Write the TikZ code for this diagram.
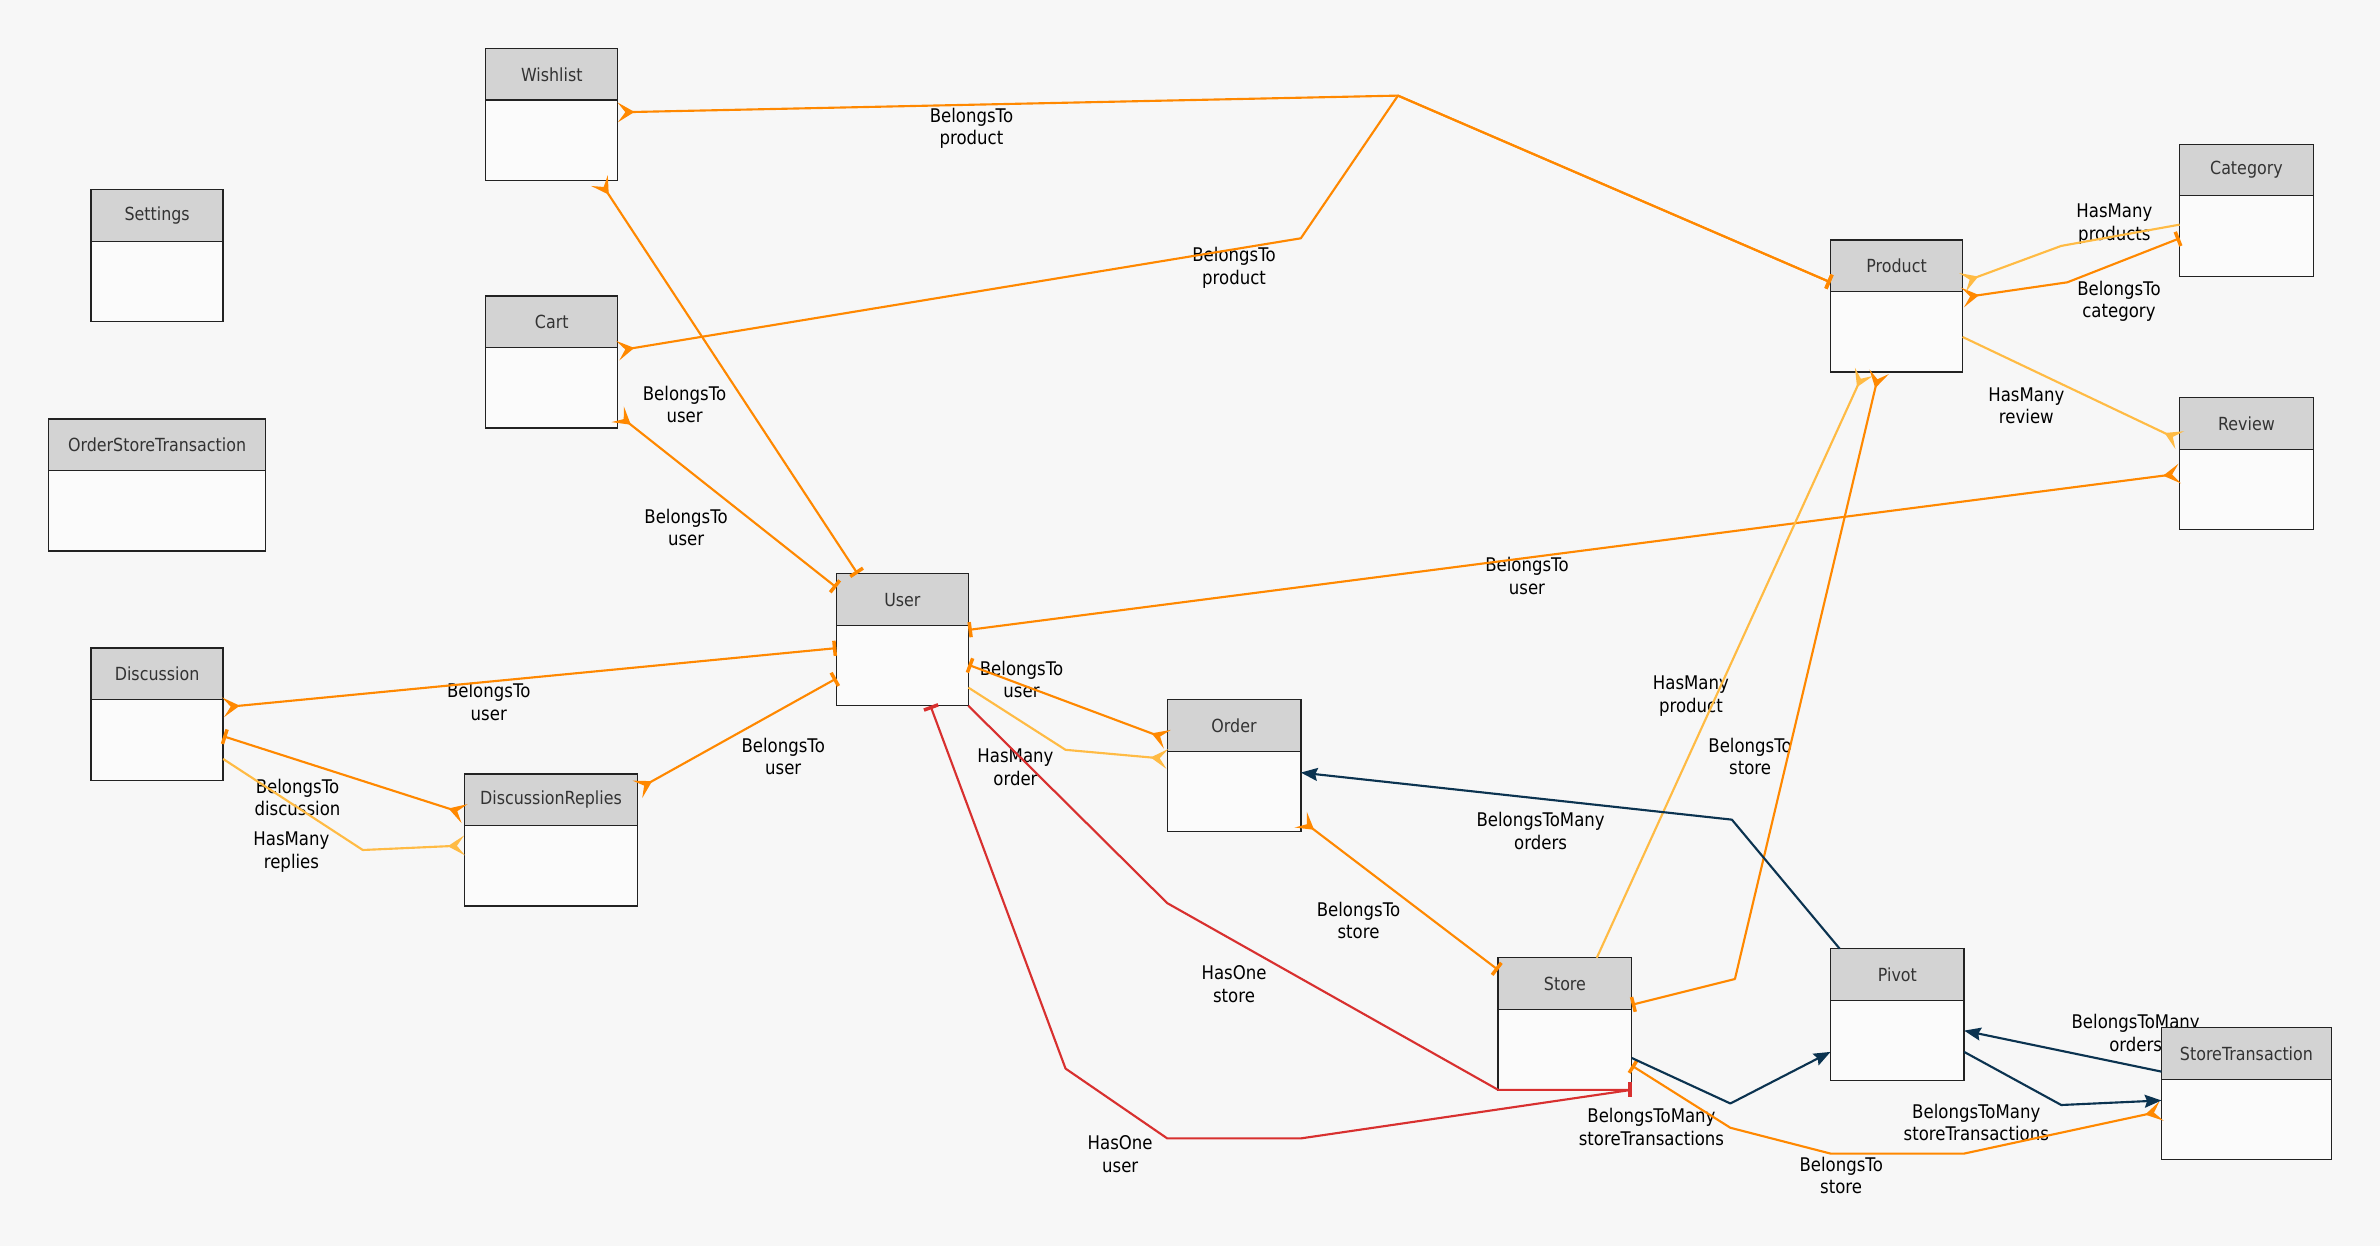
\documentclass[tikz,border=0pt]{standalone}
\usepackage{fontspec}
\setmainfont[FakeStretch=0.88]{DejaVu Sans}
\usetikzlibrary{arrows.meta,calc}

\definecolor{bgc}{HTML}{F7F7F7}
\definecolor{headc}{HTML}{D3D3D3}
\definecolor{boxline}{HTML}{222222}
\definecolor{relorange}{HTML}{FF8800}
\definecolor{rellight}{HTML}{FFBB44}
\definecolor{relred}{HTML}{D8302F}
\definecolor{relnavy}{HTML}{0B3350}

\pgfdeclarelayer{lbls}
\pgfdeclarelayer{links}
\pgfsetlayers{lbls,main,links}

\tikzset{
  entbody/.style={draw=boxline, fill=bgc!50!white, line width=0.9pt,
    minimum width=#1pt, minimum height=87pt, anchor=north west,
    inner sep=0pt, outer sep=0pt},
  enthead/.style={draw=boxline, fill=headc, line width=0.9pt,
    minimum width=#1pt, minimum height=34pt, anchor=north west,
    inner sep=0pt, outer sep=0pt, text=black!80,
    font=\fontsize{11.9}{14}\selectfont},
  lbl/.style={align=center, inner sep=0pt, yshift=-1.5pt,
    font=\fontsize{12.4}{14.8}\selectfont},
  rel/.style={line width=1.4pt, line join=round},
  cfoot/.tip={Stealth[reversed,length=11pt,width=13pt,inset=5pt]},
  cbar/.tip={Bar[width=10pt,line width=2.3pt]},
  navtip/.tip={Stealth[length=11pt,width=8.5pt,inset=1.5pt]},
}

% entity box: name, left, top, width, title
\newcommand\entity[5]{%
  \node[entbody=#4] (#1) at (#2,#3) {};
  \node[enthead=#4] (#1h) at (#2,#3) {#5};
}

\begin{document}
\begin{tikzpicture}[x=1pt,y=-1pt]
\useasboundingbox (0,0) rectangle (1568,821);

% ---------- entities ----------
\entity{wishlist}{320}{32}{87}{Wishlist}
\entity{settings}{60}{125}{87}{Settings}
\entity{cart}{320}{195}{87}{Cart}
\entity{ost}{32}{276}{143}{OrderStoreTransaction}
\entity{discussion}{60}{427}{87}{Discussion}
\entity{dreplies}{306}{510}{114}{DiscussionReplies}
\entity{user}{551}{378}{87}{User}
\entity{order}{769}{461}{88}{Order}
\entity{product}{1206}{158}{87}{Product}
\entity{category}{1436}{95}{88}{Category}
\entity{review}{1436}{262}{88}{Review}
\entity{store}{987}{631}{88}{Store}
\entity{pivot}{1206}{625}{88}{Pivot}
\entity{strans}{1424}{677}{112}{StoreTransaction}

% ---------- background and relation labels ----------
\begin{pgfonlayer}{lbls}
\fill[bgc] (0,0) rectangle (1568,821);
\node[lbl] (l1) at (640,83) {BelongsTo\\product};
\node[lbl] (l2) at (813,175) {BelongsTo\\product};
\node[lbl] (l3) at (451,265) {BelongsTo\\user};
\node[lbl] (l4) at (452,346) {BelongsTo\\user};
\node[lbl] (l5) at (322,461) {BelongsTo\\user};
\node[lbl] (l6) at (516,497) {BelongsTo\\user};
\node[lbl] (l7) at (196,524) {BelongsTo\\discussion};
\node[lbl] (l8) at (192,560) {HasMany\\replies};
\node[lbl] (l9) at (1006,378) {BelongsTo\\user};
\node[lbl] (l10) at (673,446) {BelongsTo\\user};
\node[lbl] (l11) at (669,504) {HasMany\\order};
\node[lbl] (l12) at (813,647) {HasOne\\store};
\node[lbl] (l13) at (738,759) {HasOne\\user};
\node[lbl] (l14) at (895,605) {BelongsTo\\store};
\node[lbl] (l15) at (1114,457) {HasMany\\product};
\node[lbl] (l16) at (1153,497) {BelongsTo\\store};
\node[lbl] (l17) at (1015,546) {BelongsToMany\\orders};
\node[lbl] (l18) at (1088,741) {BelongsToMany\\storeTransactions};
\node[lbl] (l19) at (1407,679) {BelongsToMany\\orders};
\node[lbl] (l20) at (1302,738) {BelongsToMany\\storeTransactions};
\node[lbl] (l21) at (1213,773) {BelongsTo\\store};
\node[lbl] (l22) at (1393,146) {HasMany\\products};
\node[lbl] (l23) at (1396,197) {BelongsTo\\category};
\node[lbl] (l24) at (1335,266) {HasMany\\review};
\end{pgfonlayer}

% ---------- relations ----------
\begin{pgfonlayer}{links}
\coordinate (prodjoin) at (921,63);
% belongs-to (orange)
\draw[rel, relorange, cfoot-cbar] ([shift={(0,42)}]wishlist.north east) -- (prodjoin) -- ([shift={(0,28)}]product.north west);
\draw[rel, relorange, cfoot-cbar] ([shift={(0,36)}]cart.north east) -- (857,157) -- (prodjoin) -- ([shift={(0,28)}]product.north west);
\draw[rel, relorange, cfoot-cbar] ([shift={(75,87)}]wishlist.north west) -- ([shift={(14,0)}]user.north west);
\draw[rel, relorange, cfoot-cbar] ([shift={(0,78)}]cart.north east) -- ([shift={(0,9)}]user.north west);
\draw[rel, relorange, cfoot-cbar] ([shift={(0,39)}]discussion.north east) -- ([shift={(0,49)}]user.north west);
\draw[rel, relorange, cfoot-cbar] ([shift={(0,10)}]dreplies.north east) -- ([shift={(0,69)}]user.north west);
\draw[rel, relorange, cfoot-cbar] ([shift={(0,26)}]dreplies.north west) -- ([shift={(0,58)}]discussion.north east);
\draw[rel, relorange, cfoot-cbar] ([shift={(0,50)}]review.north west) -- ([shift={(0,37)}]user.north east);
\draw[rel, relorange, cfoot-cbar] ([shift={(0,26)}]order.north west) -- ([shift={(0,60)}]user.north east);
\draw[rel, relorange, cfoot-cbar] ([shift={(0,79)}]order.north east) -- ([shift={(0,8)}]store.north west);
\draw[rel, relorange, cfoot-cbar] ([shift={(32,0)}]product.south west) -- (1143,645) -- ([shift={(0,31)}]store.north east);
\draw[rel, relorange, cfoot-cbar] ([shift={(0,55)}]strans.north west) -- (1294,760) -- (1206,760) -- (1140,743) -- ([shift={(0,71)}]store.north east);
\draw[rel, relorange, cfoot-cbar] ([shift={(0,38)}]product.north east) -- (1362,186) -- ([shift={(0,62)}]category.north west);
% has-many (light orange)
\draw[rel, rellight, -cfoot] ([shift={(0,73)}]discussion.north east) -- (239,560) -- ([shift={(0,47)}]dreplies.north west);
\draw[rel, rellight, -cfoot] ([shift={(0,75)}]user.north east) -- (702,494) -- ([shift={(0,39)}]order.north west);
\draw[rel, rellight, -cfoot] ([shift={(65,0)}]store.north west) -- ([shift={(22,0)}]product.south west);
\draw[rel, rellight, -cfoot] ([shift={(0,53)}]category.north west) -- (1358,162) -- ([shift={(0,28)}]product.north east);
\draw[rel, rellight, -cfoot] ([shift={(0,64)}]product.north east) -- ([shift={(0,28)}]review.north west);
% has-one (red)
\draw[rel, relred, -cbar] (user.south east) -- (769,595) -- (store.south west) -- (store.south east);
\draw[rel, relred, -cbar] (store.south east) -- (857,750) -- (769,750) -- (702,704) -- ([shift={(62,0)}]user.south west);
% belongs-to-many (navy)
\draw[rel, relnavy, -navtip] ([shift={(6,0)}]pivot.north west) -- (1141,540) -- ([shift={(0,48)}]order.north east);
\draw[rel, relnavy, -navtip] ([shift={(0,66)}]store.north east) -- (1140,727) -- ([shift={(0,68)}]pivot.north west);
\draw[rel, relnavy, -navtip] ([shift={(0,29)}]strans.north west) -- ([shift={(0,54)}]pivot.north east);
\draw[rel, relnavy, -navtip] ([shift={(0,68)}]pivot.north east) -- (1358,728) -- ([shift={(0,48)}]strans.north west);
\end{pgfonlayer}
\end{tikzpicture}
\end{document}
